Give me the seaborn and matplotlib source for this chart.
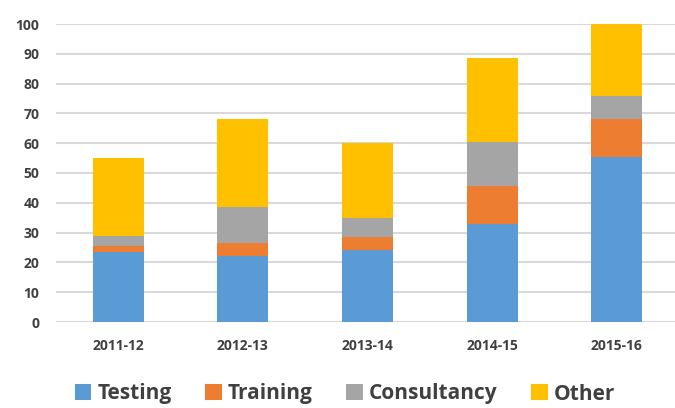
import matplotlib
matplotlib.use("Agg")
import matplotlib.pyplot as plt
import seaborn as sns
import numpy as np
from matplotlib.patches import Patch

years = ["2011-12", "2012-13", "2013-14", "2014-15", "2015-16"]
testing = [23.5, 22, 24, 33, 55.5]
training = [2, 4.5, 4.5, 12.5, 12.5]
consultancy = [3.5, 12, 6.5, 15, 8]
other = [26, 29.5, 25, 28, 24]
series_names = ["Testing", "Training", "Consultancy", "Other"]
colors = ["#5B9BD5", "#ED7D31", "#A5A5A5", "#FFC000"]

sns.set_style("white")
plt.rcParams['font.family'] = ['Open Sans', 'DejaVu Sans']

fig = plt.figure(figsize=(6.75, 4.08), dpi=100)
ax = fig.add_axes([56/675, 1-322/408, 623/675, 298/408])

bottom = np.zeros(len(years))
for name, vals, c in zip(series_names, [testing, training, consultancy, other], colors):
    sns.barplot(x=years, y=vals, bottom=bottom, color=c, width=0.41,
                ax=ax, label=name, saturation=1, linewidth=0, zorder=3)
    bottom = bottom + np.array(vals)

ax.set_ylim(0, 100)
ax.set_xlim(-0.5, 4.5)
ax.set_yticks(range(0, 101, 10))
ax.yaxis.grid(True, color="#D9D9D9", linewidth=1.5, zorder=0)
ax.set_axisbelow(True)
for s in ax.spines.values():
    s.set_visible(False)
ax.tick_params(axis="y", length=0, pad=12, labelsize=10, labelcolor="#404040")
ax.tick_params(axis="x", length=0, pad=12, labelsize=10, labelcolor="#404040")
for t in ax.get_xticklabels() + ax.get_yticklabels():
    t.set_fontweight("bold")
ax.set_xlabel("")
ax.set_ylabel("")
if ax.get_legend():
    ax.get_legend().remove()

handles = [Patch(facecolor=c, edgecolor="none") for c in colors]
fig.legend(handles, series_names, loc="center", bbox_to_anchor=(345/675, 1-394/408),
           ncol=4, frameon=False, handlelength=0.8, handleheight=0.8,
           handletextpad=0.3, columnspacing=1.6, prop={'weight': 'bold', 'size': 15})
for t in fig.legends[0].get_texts():
    t.set_color("#404040")

fig.savefig("out.png", dpi=100)
